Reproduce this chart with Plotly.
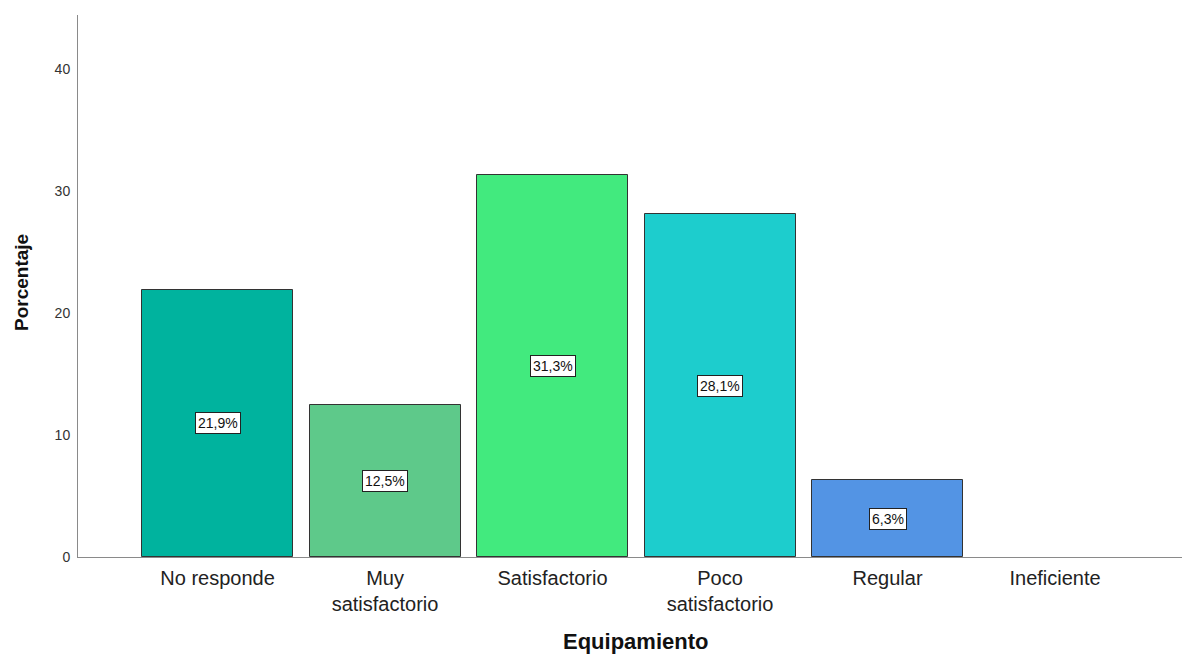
import plotly.graph_objects as go

categories = ["No responde", "Muy<br>satisfactorio", "Satisfactorio", "Poco<br>satisfactorio", "Regular", "Ineficiente"]
percentages = [21.9, 12.5, 31.3, 28.1, 6.3, 0.0]
bar_colors = ["#00B39E", "#5EC98A", "#42EA7E", "#1DCDCD", "#5394E4", "#FFFFFF"]
y_ticks = [0, 10, 20, 30, 40]

xpos = list(range(len(categories)))
FONT = "Liberation Sans, Arial, sans-serif"

fig = go.Figure()
fig.add_trace(go.Bar(
    x=xpos,
    y=percentages,
    width=0.9015,
    marker=dict(color=bar_colors,
                line=dict(color="#333333", width=[1 if v > 0 else 0 for v in percentages])),
    hoverinfo="skip",
    showlegend=False,
))

for xi, v in zip(xpos, percentages):
    if v > 0:
        fig.add_annotation(
            x=xi, y=v / 2, xref="x", yref="y",
            text=(f"{v:.1f}%").replace(".", ","),
            showarrow=False,
            font=dict(family=FONT, size=14, color="#111111"),
            bgcolor="white", bordercolor="#222222", borderwidth=1, borderpad=2,
        )

fig.add_annotation(
    text="<b>Equipamiento</b>", xref="paper", yref="paper", x=0.505, y=0,
    yanchor="middle", yshift=-84, showarrow=False,
    font=dict(family=FONT, size=22, color="#111111"),
)
fig.add_annotation(
    text="<b>Porcentaje</b>", xref="paper", yref="paper", x=0, y=0.5055,
    xanchor="center", yanchor="middle", xshift=-57, textangle=-90, showarrow=False,
    font=dict(family=FONT, size=19, color="#111111"),
)

fig.update_layout(
    width=1182, height=654,
    margin=dict(l=78, r=0, t=15, b=97),
    plot_bgcolor="white", paper_bgcolor="white",
    bargap=0,
    xaxis=dict(
        range=[-0.833, 5.758],
        tickmode="array", tickvals=xpos, ticktext=categories,
        showgrid=False, zeroline=False,
        showline=True, linecolor="#8a8a8a", linewidth=1,
        ticks="outside", ticklen=3, tickcolor="rgba(0,0,0,0)",
        tickfont=dict(family=FONT, size=20, color="#222222"),
    ),
    yaxis=dict(
        range=[0, 44.43],
        tickmode="array", tickvals=y_ticks,
        showgrid=False, zeroline=False,
        showline=True, linecolor="#8a8a8a", linewidth=1,
        ticks="outside", ticklen=4, tickcolor="rgba(0,0,0,0)",
        tickfont=dict(family=FONT, size=14, color="#333333"),
    ),
)

fig.write_html(
    "out.html",
    config={"displayModeBar": False},
    post_script="document.body.style.margin='0';document.body.style.overflow='hidden';",
)
